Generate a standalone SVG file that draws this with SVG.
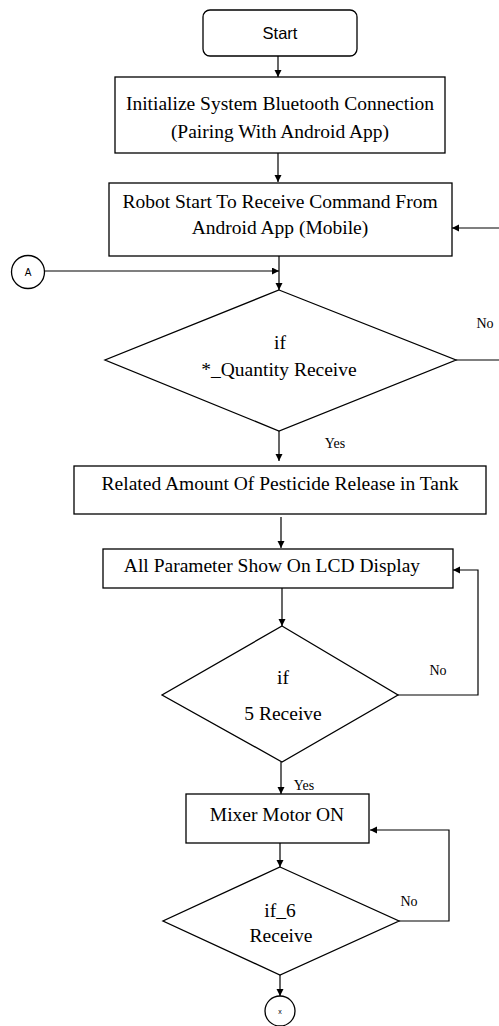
<svg xmlns="http://www.w3.org/2000/svg" width="499" height="1026" viewBox="0 0 499 1026">
  <style>
    .box { fill: #ffffff; stroke: #000000; stroke-width: 1.3; }
    .line { fill: none; stroke: #000000; stroke-width: 1.2; }
    .t { font-family: "Liberation Serif", "Times New Roman", serif; font-size: 19.5px; fill: #000000; text-anchor: middle; }
    .lbl { font-family: "Liberation Serif", "Times New Roman", serif; font-size: 14px; fill: #000000; text-anchor: middle; }
    .sans { font-family: "Liberation Sans", Arial, sans-serif; fill: #000000; text-anchor: middle; }
  </style>
  <defs>
    <marker id="arrow" markerUnits="userSpaceOnUse" markerWidth="8" markerHeight="8" refX="7" refY="3.5" orient="auto">
      <path d="M0,0 L7,3.5 L0,7 z" fill="#000000"/>
    </marker>
  </defs>
  <rect width="499" height="1026" fill="#ffffff"/>

  <g id="start">
    <rect class="box" x="203" y="10" width="154" height="46" rx="7" ry="7"/>
    <text class="sans" x="280" y="39" font-size="16.5">Start</text>
  </g>

  <g id="init-bluetooth">
    <rect class="box" x="115" y="77" width="330" height="76"/>
    <text class="t" x="280" y="110">Initialize System Bluetooth Connection</text>
    <text class="t" x="280" y="138">(Pairing With Android App)</text>
  </g>

  <g id="receive-command">
    <rect class="box" x="109" y="183" width="343" height="73"/>
    <text class="t" x="280" y="208">Robot Start To Receive Command From</text>
    <text class="t" x="280" y="234">Android App (Mobile)</text>
  </g>

  <g id="connector-a">
    <circle class="box" cx="28" cy="272" r="16.5"/>
    <text class="sans" x="28" y="276" font-size="10">A</text>
  </g>

  <g id="check-quantity">
    <polygon class="box" points="279,290 456,360 279,431 105,360"/>
    <text class="t" x="280" y="349">if</text>
    <text class="t" x="279" y="376">*_Quantity Receive</text>
  </g>

  <g id="release-pesticide">
    <rect class="box" x="74" y="466" width="412" height="48"/>
    <text class="t" x="280" y="490">Related Amount Of Pesticide Release in Tank</text>
  </g>

  <g id="lcd-display">
    <rect class="box" x="103" y="549" width="350" height="39"/>
    <text class="t" x="272" y="572">All Parameter Show On LCD Display</text>
  </g>

  <g id="check-5">
    <polygon class="box" points="282,626 398,695 282,762 162,695"/>
    <text class="t" x="283" y="684">if</text>
    <text class="t" x="283" y="720">5 Receive</text>
  </g>

  <g id="mixer-motor">
    <rect class="box" x="186" y="794" width="183" height="49"/>
    <text class="t" x="277" y="821">Mixer Motor ON</text>
  </g>

  <g id="check-6">
    <polygon class="box" points="280,867 399,921 280,975 163,921"/>
    <text class="t" x="280" y="917">if_6</text>
    <text class="t" x="281" y="942">Receive</text>
  </g>

  <g id="connector-x">
    <circle class="box" cx="280" cy="1011" r="15"/>
    <text class="sans" x="280" y="1014" font-size="7" fill="#777777">x</text>
  </g>

  <g id="connectors">
    <line class="line" x1="278" y1="56" x2="278" y2="77" marker-end="url(#arrow)"/>
    <line class="line" x1="278" y1="153" x2="278" y2="182" marker-end="url(#arrow)"/>
    <line class="line" x1="499" y1="228" x2="452" y2="228" marker-end="url(#arrow)"/>
    <line class="line" x1="279" y1="256" x2="279" y2="290" marker-end="url(#arrow)"/>
    <line class="line" x1="44.5" y1="271" x2="279" y2="271" marker-end="url(#arrow)"/>
    <line class="line" x1="456" y1="360" x2="499" y2="360"/>
    <line class="line" x1="279" y1="431" x2="279" y2="461" marker-end="url(#arrow)"/>
    <line class="line" x1="281" y1="517" x2="281" y2="548" marker-end="url(#arrow)"/>
    <line class="line" x1="282" y1="588" x2="282" y2="626" marker-end="url(#arrow)"/>
    <polyline class="line" points="398,695 478,695 478,570 453,570" marker-end="url(#arrow)"/>
    <line class="line" x1="281" y1="762" x2="281" y2="794" marker-end="url(#arrow)"/>
    <line class="line" x1="280" y1="843" x2="280" y2="867" marker-end="url(#arrow)"/>
    <polyline class="line" points="399,921 449,921 449,830 370,830" marker-end="url(#arrow)"/>
    <line class="line" x1="280" y1="975" x2="280" y2="996" marker-end="url(#arrow)"/>
  </g>

  <g id="labels">
    <text class="lbl" x="485" y="328" font-size="13">No</text>
    <text class="lbl" x="335" y="448" font-size="16">Yes</text>
    <text class="lbl" x="438" y="675">No</text>
    <text class="lbl" x="304" y="790" font-size="13.5">Yes</text>
    <text class="lbl" x="409" y="906" font-size="13">No</text>
  </g>
</svg>
